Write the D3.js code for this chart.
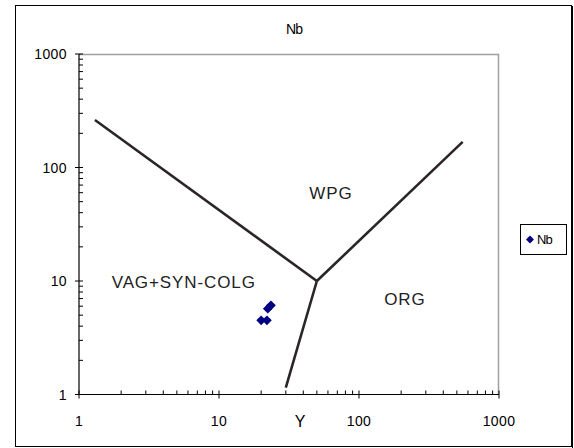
<!DOCTYPE html>
<html><head><meta charset="utf-8">
<script src="https://cdn.jsdelivr.net/npm/d3@7"></script>
<style>body{margin:0;background:#fff}svg{display:block;font-family:"Liberation Sans",Arial,sans-serif}</style>
</head><body><svg id="c" width="574" height="448"></svg>
<script>
// Data
const sampleY = [20, 22, 22.3, 23.5];
const sampleNb = [4.5, 4.5, 5.7, 6.1];
const boundaryLeft = [[1.3, 262], [50, 10]];
const boundaryRight = [[50, 10], [550, 168]];
const boundaryBottom = [[50, 10], [30, 1.15]];
const regionLabels = ["WPG", "VAG+SYN-COLG", "ORG"];
const regionPos = [[63, 60], [5.6, 9.8], [213, 7]];
const xTicks = [1, 10, 100, 1000];
const yTicks = [1, 10, 100, 1000];
const seriesName = "Nb";
const xTitle = "Y";
const chartTitle = "Nb";

const svg = d3.select("#c");
const L = 79, R = 499, T = 54, B = 394.5;
const x = d3.scaleLog().domain([1, 1000]).range([L, R]);
const y = d3.scaleLog().domain([1, 1000]).range([B, T]);

// outer border
svg.append("rect").attr("x", 15.5).attr("y", 5.5).attr("width", 556).attr("height", 441)
  .attr("fill", "none").attr("stroke", "#000").attr("stroke-width", 1);
svg.append("line").attr("x1", 572.5).attr("x2", 572.5).attr("y1", 6).attr("y2", 448).attr("stroke", "#000").attr("stroke-width", 1);

// plot frame top/right gray
svg.append("path").attr("d", `M${L},${T + 0.5}H${R - 0.5}V${B}`).attr("fill", "none")
  .attr("stroke", "#a0a0a0").attr("stroke-width", 1.5);

// minor ticks
const minor = [];
for (let d = 1; d < 1000; d *= 10) for (let k = 2; k <= 9; k++) minor.push(d * k);
const g = svg.append("g");
minor.forEach(v => {
  g.append("line").attr("x1", x(v)).attr("x2", x(v)).attr("y1", B).attr("y2", B - 4).attr("stroke", "#000");
  g.append("line").attr("x1", L).attr("x2", L + 4).attr("y1", y(v)).attr("y2", y(v)).attr("stroke", "#000");
});
xTicks.forEach(v => {
  g.append("line").attr("x1", x(v)).attr("x2", x(v)).attr("y1", B - 4).attr("y2", B + 4).attr("stroke", "#000");
  g.append("text").attr("x", x(v)).attr("y", 426).attr("text-anchor", "middle")
    .attr("font-size", 14).attr("letter-spacing", 0.4).text(v);
});
yTicks.forEach(v => {
  g.append("line").attr("x1", L - 4).attr("x2", L + 4).attr("y1", y(v)).attr("y2", y(v)).attr("stroke", "#000");
  g.append("text").attr("x", 67).attr("y", y(v) + 5).attr("text-anchor", "end")
    .attr("font-size", 14).attr("letter-spacing", 0.4).text(v);
});
// axes lines
svg.append("line").attr("x1", L).attr("x2", L).attr("y1", T).attr("y2", B).attr("stroke", "#000").attr("stroke-width", 1.2);
svg.append("line").attr("x1", L).attr("x2", R).attr("y1", B).attr("y2", B).attr("stroke", "#000").attr("stroke-width", 1.2);

// boundary lines
const line = d3.line().x(d => x(d[0])).y(d => y(d[1]));
[boundaryLeft, boundaryRight, boundaryBottom].forEach(b => {
  svg.append("path").attr("d", line(b)).attr("fill", "none").attr("stroke", "#2b2526").attr("stroke-width", 2.6);
});

// region labels
regionLabels.forEach((t, i) => {
  svg.append("text").attr("x", x(regionPos[i][0])).attr("y", y(regionPos[i][1]) + 6)
    .attr("text-anchor", "middle").attr("font-size", 17).attr("letter-spacing", 0.9)
    .attr("fill", "#222").text(t);
});

// points
const diamond = d3.symbol().type(d3.symbolDiamond2).size(60);
sampleY.forEach((v, i) => {
  svg.append("path").attr("d", diamond()).attr("transform", `translate(${x(v)},${y(sampleNb[i])})`)
    .attr("fill", "#000080");
});

// titles
svg.append("text").attr("x", 294).attr("y", 34).attr("text-anchor", "middle").attr("font-size", 14)
  .attr("letter-spacing", -1).text(chartTitle);
svg.append("text").attr("x", 300).attr("y", 427).attr("text-anchor", "middle").attr("font-size", 16).text(xTitle);

// legend
svg.append("rect").attr("x", 520.5).attr("y", 224.5).attr("width", 46).attr("height", 30)
  .attr("fill", "#fff").attr("stroke", "#000");
svg.append("path").attr("d", d3.symbol().type(d3.symbolDiamond2).size(40)()).attr("transform", "translate(530,239.5)").attr("fill", "#000080");
svg.append("text").attr("x", 537).attr("y", 244).attr("font-size", 13).attr("letter-spacing", -1).text(seriesName);
</script></body></html>
